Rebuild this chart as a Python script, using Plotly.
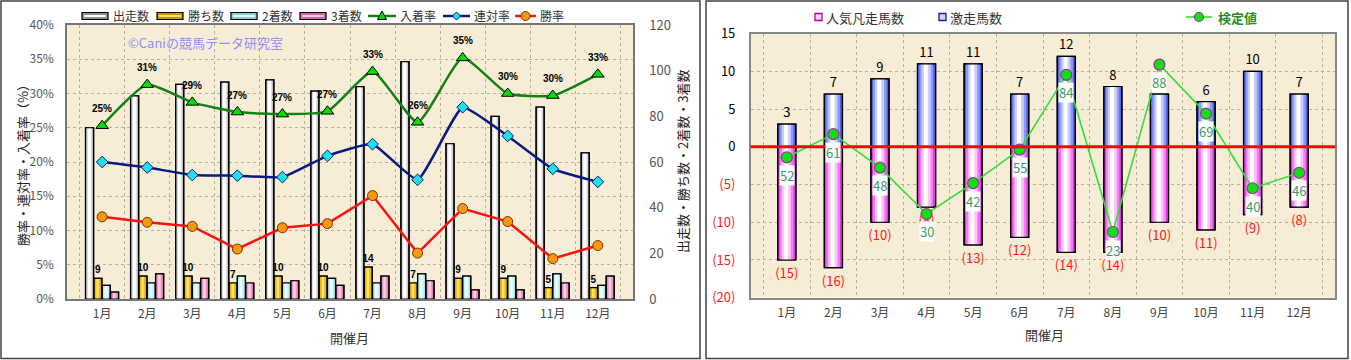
import plotly.graph_objects as go

# ---------------- data ----------------
months = ["1月", "2月", "3月", "4月", "5月", "6月", "7月", "8月", "9月", "10月", "11月", "12月"]

runs = [75, 89, 94, 95, 96, 91, 93, 104, 68, 80, 84, 64]          # 出走数
wins = [9, 10, 10, 7, 10, 10, 14, 7, 9, 9, 5, 5]                  # 勝ち数
seconds = [6, 7, 7, 10, 7, 9, 7, 11, 10, 10, 11, 6]               # 2着数
thirds = [3, 11, 9, 7, 8, 6, 10, 8, 4, 4, 7, 10]                  # 3着数
place_rate = [25.3, 31.3, 28.7, 27.3, 27.0, 27.4, 33.2, 25.8, 35.2, 30.0, 29.7, 32.8]   # 入着率
quinella_rate = [20.0, 19.2, 18.1, 18.0, 17.8, 20.9, 22.6, 17.4, 28.0, 23.8, 19.0, 17.1]  # 連対率
win_rate = [12.0, 11.2, 10.6, 7.3, 10.4, 11.0, 15.1, 6.7, 13.2, 11.3, 5.9, 7.8]           # 勝率

flop_counts = [15, 16, 10, 8, 13, 12, 14, 14, 10, 11, 9, 8]       # 人気凡走馬数
upset_counts = [3, 7, 9, 11, 11, 7, 12, 8, 7, 6, 10, 7]           # 激走馬数
test_values = [52, 61, 48, 30, 42, 55, 84, 23, 88, 69, 40, 46]    # 検定値

left_ticks = [-20, -15, -10, -5, 0, 5, 10, 15]

W, H = 1351, 360
FONT = "Noto Sans CJK JP"


def px_x(p):
    return p / W


def px_y(p):
    return (H - p) / H


fig = go.Figure()


def layered_bar(x, y, xa, ya, offset, width, colors, fracs,
                texttemplate=None, textfont=None, customdata=None):
    fig.add_trace(go.Bar(
        x=x, y=y, xaxis=xa, yaxis=ya, offset=offset, width=width,
        marker=dict(color=colors[0], line=dict(color="black", width=1.2)), hoverinfo="skip"))
    for c, f in zip(colors[1:], fracs):
        w = width * f
        fig.add_trace(go.Bar(
            x=x, y=y, xaxis=xa, yaxis=ya, offset=offset + (width - w) * 0.45, width=w,
            marker=dict(color=c, line=dict(width=0)), hoverinfo="skip"))
    fig.add_trace(go.Bar(
        x=x, y=y, xaxis=xa, yaxis=ya, offset=offset, width=width,
        marker=dict(color="rgba(0,0,0,0)", line=dict(color="black", width=1.2)),
        texttemplate=texttemplate, customdata=customdata,
        textposition="outside" if texttemplate else "none",
        textfont=textfont, constraintext="none", cliponaxis=False, hoverinfo="skip"))


# ---------------- left panel ----------------
bw = 0.18
layered_bar(months, runs, "x", "y", -0.37, bw, ["#a8a8a8", "#dedede", "#ffffff"], [0.7, 0.35])
layered_bar(months, wins, "x", "y", -0.185, bw, ["#c89600", "#ecbc10", "#ffe070"], [0.7, 0.3],
            texttemplate="<b>%{y}</b>", textfont=dict(family="Liberation Sans", size=10, color="black"))
layered_bar(months, seconds, "x", "y", 0.0, bw, ["#90dede", "#c4f2f2", "#ecfcfc"], [0.7, 0.3])
layered_bar(months, thirds, "x", "y", 0.185, bw, ["#d8609e", "#ee98c4", "#fad0e6"], [0.7, 0.3])

fig.add_trace(go.Scatter(
    x=months, y=place_rate, xaxis="x", yaxis="y2", mode="lines+markers",
    line=dict(color="#138213", width=2.5, shape="spline", smoothing=0.5),
    marker=dict(symbol="triangle-up", size=11, color="#00dd00", line=dict(color="black", width=1)),
    hoverinfo="skip"))
fig.add_trace(go.Scatter(
    x=months, y=quinella_rate, xaxis="x", yaxis="y2", mode="lines+markers",
    line=dict(color="#0a1a80", width=2.5, shape="spline", smoothing=0.4),
    marker=dict(symbol="diamond", size=9, color="#20e0e8", line=dict(color="#0a1a80", width=1)),
    hoverinfo="skip"))
fig.add_trace(go.Scatter(
    x=months, y=win_rate, xaxis="x", yaxis="y2", mode="lines+markers",
    line=dict(color="#ff1010", width=2.5),
    marker=dict(symbol="circle", size=10, color="#f59a10", line=dict(color="#803000", width=1)),
    hoverinfo="skip"))

# ---------------- right panel ----------------
neg_flop = [-v for v in flop_counts]
layered_bar(months, neg_flop, "x2", "y3", -0.195, 0.39,
            ["#e038e0", "#f080f0", "#fac4fa", "#ffffff"], [0.75, 0.5, 0.22],
            customdata=flop_counts, texttemplate="(%{customdata})",
            textfont=dict(family=FONT, size=13, color="#ff1a1a"))
layered_bar(months, upset_counts, "x2", "y3", -0.195, 0.39,
            ["#5060ec", "#8e9af4", "#c8cefa", "#ffffff"], [0.75, 0.5, 0.22],
            texttemplate="%{y}", textfont=dict(family=FONT, size=13, color="black"))

fig.add_trace(go.Scatter(
    x=months, y=test_values, xaxis="x2", yaxis="y4", mode="lines+markers",
    line=dict(color="#33e033", width=1.6),
    marker=dict(symbol="circle", size=11, color="#10e010", line=dict(color="#993399", width=1.2)),
    hoverinfo="skip", cliponaxis=False))

# ---------------- layout ----------------
grid = dict(showgrid=True, gridcolor="#b8b0a0", griddash="dot", gridwidth=1)
bg = "#f7ecd5"


def paper_text(x, y, text, size, color, angle=0, anchor="center"):
    return dict(x=px_x(x), y=px_y(y), xref="paper", yref="paper", xanchor=anchor, yanchor="middle",
                showarrow=False, text=text, textangle=angle, font=dict(family=FONT, size=size, color=color))


def prect(x0, x1, y0, y1, fill, line=None, lw=1):
    return dict(type="rect", xref="paper", yref="paper", x0=px_x(x0), x1=px_x(x1), y0=px_y(y1), y1=px_y(y0),
                fillcolor=fill, line=dict(color=line if line else "rgba(0,0,0,0)", width=lw if line else 0),
                layer="above")


def pline(x0, x1, y, color, lw=2):
    return dict(type="line", xref="paper", yref="paper", x0=px_x(x0), x1=px_x(x1), y0=px_y(y), y1=px_y(y),
                line=dict(color=color, width=lw), layer="above")


def pcircle(cx, cy, r, fill, line, lw=1):
    return dict(type="circle", xref="paper", yref="paper", x0=px_x(cx - r), x1=px_x(cx + r),
                y0=px_y(cy + r), y1=px_y(cy - r), fillcolor=fill, line=dict(color=line, width=lw), layer="above")


def ppath(pts, fill, line, lw=1):
    d = "M " + " L ".join(f"{px_x(a):.5f},{px_y(b):.5f}" for a, b in pts) + " Z"
    return dict(type="path", xref="paper", yref="paper", path=d, fillcolor=fill,
                line=dict(color=line, width=lw), layer="above")


annotations = []
for m, r in zip(months, place_rate):
    annotations.append(dict(x=m, y=r, xref="x", yref="y2", yshift=17, showarrow=False,
                            text=f"<b>{round(r)}%</b>",
                            font=dict(family="Liberation Sans", size=10, color="black")))
for m, v in zip(months, test_values):
    annotations.append(dict(x=m, y=v, xref="x2", yref="y4", yshift=-18, showarrow=False,
                            text=str(v), bgcolor="white", borderpad=0,
                            font=dict(family=FONT, size=13, color="#3a9a6e")))

annotations += [
    paper_text(205, 42, "©Caniの競馬データ研究室", 13, "#8f8ff5"),
    paper_text(349, 337, "開催月", 13, "#333"),
    paper_text(1044, 334, "開催月", 13, "#333"),
    paper_text(23, 162, "勝率・連対率・入着率（%）", 13, "#222", -90),
    paper_text(683, 162, "出走数・勝ち数・2着数・3着数", 13, "#222", -90),
]

shapes = [
    dict(type="rect", xref="paper", yref="paper", x0=px_x(1), x1=px_x(700), y0=px_y(358.5), y1=px_y(1),
         line=dict(color="#444", width=1.5), layer="above"),
    dict(type="rect", xref="paper", yref="paper", x0=px_x(706), x1=px_x(1348), y0=px_y(358.5), y1=px_y(1),
         line=dict(color="#444", width=1.5), layer="above"),
    dict(type="line", xref="x2 domain", yref="y3", x0=0, x1=1, y0=0, y1=0,
         line=dict(color="#ff0000", width=3), layer="above"),
]

# ---- custom legend (left panel) ----
LY = 16
bar_legend = [("出走数", 82, "#909090", "#ffffff"), ("勝ち数", 157, "#c89600", "#ffe070"),
              ("2着数", 231, "#80d0d0", "#e8fcfc"), ("3着数", 300, "#d8609e", "#fad0e6")]
for name, x0, c_out, c_in in bar_legend:
    shapes.append(prect(x0, x0 + 26, LY - 3.5, LY + 3.5, c_out, "black", 1.2))
    shapes.append(prect(x0 + 2, x0 + 24, LY - 1, LY + 1, c_in))
    annotations.append(paper_text(x0 + 29, LY, name, 12, "#333", anchor="left"))

shapes.append(pline(368, 396, LY, "#138213", 2.5))
shapes.append(ppath([(382, LY - 5), (386.5, LY + 3.5), (377.5, LY + 3.5)], "#00dd00", "black"))
annotations.append(paper_text(398, LY, "入着率", 12, "#333", anchor="left"))
shapes.append(pline(443, 470, LY, "#0a1a80", 2.5))
shapes.append(ppath([(456.5, LY - 4), (460.5, LY), (456.5, LY + 4), (452.5, LY)], "#20e0e8", "#0a1a80"))
annotations.append(paper_text(472, LY, "連対率", 12, "#333", anchor="left"))
shapes.append(pline(515, 536, LY, "#ff1010", 2.5))
shapes.append(pcircle(525.5, LY, 4.5, "#f59a10", "#803000"))
annotations.append(paper_text(538, LY, "勝率", 12, "#333", anchor="left"))

# ---- custom legend (right panel) ----
RY = 17
shapes.append(prect(815, 822, RY - 3.5, RY + 3.5, "#fbd0fb", "#b000b0", 1.3))
annotations.append(paper_text(824, RY, "人気凡走馬数", 13, "#333", anchor="left"))
shapes.append(prect(939, 946, RY - 3.5, RY + 3.5, "#d0d6fb", "#1020a0", 1.3))
annotations.append(paper_text(948, RY, "激走馬数", 13, "#333", anchor="left"))
shapes.append(pline(1186, 1212, RY, "#33e033", 1.6))
shapes.append(pcircle(1199, RY, 4.5, "#10e010", "#993399", 1.2))
annotations.append(paper_text(1216, RY, "<b>検定値</b>", 13, "#1f8f2a", anchor="left"))

fig.update_layout(
    width=W, height=H, margin=dict(l=0, r=0, t=0, b=0),
    paper_bgcolor="white", plot_bgcolor=bg, barmode="overlay",
    font=dict(family=FONT, size=12, color="#333"),
    showlegend=False,
    xaxis=dict(domain=[px_x(67), px_x(633)], anchor="y", type="category", tickson="boundaries",
               ticks="", showline=True, linecolor="#777", linewidth=1.5, mirror=True,
               tickfont=dict(size=12, color="#444"), ticklabelstandoff=3, automargin=False, **grid),
    yaxis=dict(domain=[px_y(299), px_y(25)], anchor="x", side="right", range=[0, 120], dtick=20,
               showgrid=False, zeroline=False, ticks="", showline=True, linecolor="#777", linewidth=1.5,
               tickfont=dict(size=13, color="#555"), ticklabelstandoff=12, automargin=False),
    yaxis2=dict(overlaying="y", anchor="x", side="left", range=[0, 40], dtick=5, ticksuffix="%",
                zeroline=False, ticks="", showline=True, linecolor="#777", linewidth=1.5,
                tickfont=dict(size=12, color="#555"), ticklabelstandoff=9, automargin=False, **grid),
    xaxis2=dict(domain=[px_x(750.7), px_x(1335.3)], anchor="y3", type="category", tickson="boundaries",
                ticks="", showline=True, linecolor="#888", linewidth=1.5, mirror=True,
                tickfont=dict(size=12, color="#444"), ticklabelstandoff=3, automargin=False, **grid),
    yaxis3=dict(domain=[px_y(297.7), px_y(33.7)], anchor="x2", range=[-20, 15],
                tickvals=left_ticks,
                ticktext=[f'<span style="color:#ff1a1a">({-t})</span>' if t < 0 else str(t) for t in left_ticks],
                zeroline=False, ticks="", showline=True, linecolor="#888", linewidth=1.5, mirror=True,
                tickfont=dict(size=13, color="black"), ticklabelstandoff=11, automargin=False, **grid),
    yaxis4=dict(overlaying="y3", anchor="x2", range=[-2.5, 100], visible=False),
    annotations=annotations, shapes=shapes,
)

fig.write_html("out.html", config={"displayModeBar": False},
               post_script="document.body.style.margin='0';document.body.style.overflow='hidden';")
